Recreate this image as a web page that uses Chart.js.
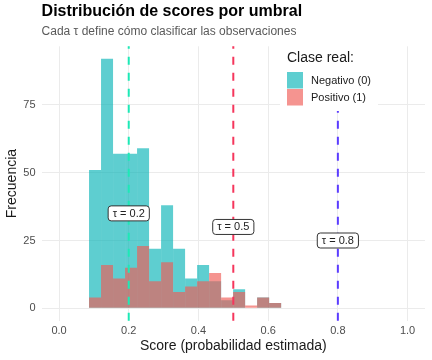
<!DOCTYPE html>
<html>
<head>
<meta charset="utf-8">
<script src="https://cdn.jsdelivr.net/npm/chart.js@4"></script>
<style>
  html, body { margin: 0; padding: 0; background: #fff; }
  canvas { display: block; }
</style>
</head>
<body>
<canvas id="histChart" width="432" height="360"></canvas>
<script>
// histogram bins (centre of each bin) and counts per class
const binCenters = [0.10330, 0.13775, 0.17220, 0.20665, 0.24110, 0.27555, 0.31000, 0.34445,
                    0.37890, 0.41335, 0.44780, 0.48225, 0.51670, 0.55115, 0.58560, 0.62005];
const negativeCounts = [51, 92, 57, 57, 59, 22, 38, 22, 11, 16, 10, 3, 7, 0, 4, 2];
const positiveCounts = [4, 16, 11, 15, 23, 10, 17, 6, 8, 10, 13, 4, 6, 1, 4, 2];
const xTicks = [0, 0.2, 0.4, 0.6, 0.8, 1];
const yTicks = [0, 25, 50, 75];
const thresholds = [0.2, 0.5, 0.8];
const thresholdLabelY = [35, 30, 25];
const thresholdColors = ["#1DE9B6", "#F5365C", "#5B3CFF"];
const classNames = ["Negativo (0)", "Positivo (1)"];
const classColors = ["rgba(0,178,180,0.63)", "rgba(240,90,84,0.65)"];

const FONT = "'Liberation Sans', Arial, sans-serif";
Chart.defaults.font.family = FONT;

const thresholdPlugin = {
  id: "thresholds",
  afterDatasetsDraw(chart) {
    const { ctx, chartArea, scales: { x, y } } = chart;
    ctx.save();
    thresholds.forEach((t, i) => {
      const px = x.getPixelForValue(t);
      ctx.strokeStyle = thresholdColors[i];
      ctx.lineWidth = 2;
      ctx.setLineDash([8, 8]);
      ctx.beginPath();
      ctx.moveTo(px, chartArea.bottom);
      ctx.lineTo(px, chartArea.top);
      ctx.stroke();
    });
    ctx.setLineDash([]);
    ctx.font = "11px " + FONT;
    ctx.textAlign = "center";
    ctx.textBaseline = "middle";
    thresholds.forEach((t, i) => {
      const label = "τ = " + t.toFixed(1);
      const px = x.getPixelForValue(t);
      const py = y.getPixelForValue(thresholdLabelY[i]);
      const w = ctx.measureText(label).width + 9, h = 15;
      ctx.beginPath();
      ctx.roundRect(px - w / 2, py - h / 2, w, h, 3);
      ctx.fillStyle = "#fff";
      ctx.fill();
      ctx.strokeStyle = "#333";
      ctx.lineWidth = 1;
      ctx.stroke();
      ctx.fillStyle = "#222";
      ctx.fillText(label, px, py + 0.5);
    });
    ctx.restore();
  }
};

// ggplot-style legend sitting inside the panel
const legendPlugin = {
  id: "insideLegend",
  afterDraw(chart) {
    const ctx = chart.ctx;
    ctx.save();
    ctx.fillStyle = "#fff";
    ctx.fillRect(280, 44, 98, 67);
    ctx.fillStyle = "#1a1a1a";
    ctx.font = "14px " + FONT;
    ctx.textBaseline = "middle";
    ctx.fillText("Clase real:", 287, 58);
    ctx.font = "11px " + FONT;
    classNames.forEach((name, i) => {
      const top = 72 + i * 17;
      ctx.fillStyle = classColors[i];
      ctx.fillRect(287, top, 16, 16.5);
      ctx.fillStyle = "#1a1a1a";
      ctx.fillText(name, 311, top + 8.5);
    });
    ctx.restore();
  }
};

const ctx = document.getElementById("histChart").getContext("2d");
new Chart(ctx, {
  type: "bar",
  data: {
    datasets: [
      {
        label: classNames[0],
        data: binCenters.map((c, i) => ({ x: c, y: negativeCounts[i] })),
        backgroundColor: classColors[0],
        order: 2
      },
      {
        label: classNames[1],
        data: binCenters.map((c, i) => ({ x: c, y: positiveCounts[i] })),
        backgroundColor: classColors[1],
        order: 1
      }
    ]
  },
  options: {
    responsive: false,
    animation: false,
    grouped: false,
    barPercentage: 1,
    categoryPercentage: 1,
    inflateAmount: 0,
    borderWidth: 0,
    layout: { padding: { left: 0, right: 7, top: 0, bottom: 0 } },
    plugins: {
      legend: { display: false },
      tooltip: { enabled: false },
      title: {
        display: true,
        text: "Distribución de scores por umbral",
        align: "start",
        fullSize: false,
        color: "#000",
        font: { size: 16, weight: "bold" },
        padding: { top: 2, bottom: 0 }
      },
      subtitle: {
        display: true,
        text: "Cada τ define cómo clasificar las observaciones",
        align: "start",
        fullSize: false,
        color: "#5a5a5a",
        font: { size: 12 },
        padding: { top: 3.4, bottom: 7.3 }
      }
    },
    scales: {
      x: {
        type: "linear",
        offset: false,
        min: -0.05,
        max: 1.05,
        afterBuildTicks: s => { s.ticks = xTicks.map(v => ({ value: v })); },
        afterFit: s => { s.height = 39.2; },
        grid: { color: "#EBEBEB", drawTicks: false, offset: false },
        border: { display: false },
        ticks: {
          color: "#4D4D4D",
          font: { size: 11 },
          padding: 4,
          maxRotation: 0,
          autoSkip: false,
          callback: v => v.toFixed(1)
        },
        title: {
          display: true,
          text: "Score (probabilidad estimada)",
          color: "#1a1a1a",
          font: { size: 14 },
          padding: { top: 0, bottom: 5.5 }
        }
      },
      y: {
        min: -4.6,
        max: 96.6,
        afterBuildTicks: s => { s.ticks = yTicks.map(v => ({ value: v })); },
        afterFit: s => { s.width = 41.6; },
        grid: { color: "#EBEBEB", drawTicks: false },
        border: { display: false },
        ticks: { color: "#4D4D4D", font: { size: 11 }, padding: 6 },
        title: {
          display: true,
          text: "Frecuencia",
          color: "#1a1a1a",
          font: { size: 14 },
          padding: { top: 4, bottom: 0 }
        }
      }
    }
  },
  plugins: [thresholdPlugin, legendPlugin]
});
</script>
</body>
</html>
